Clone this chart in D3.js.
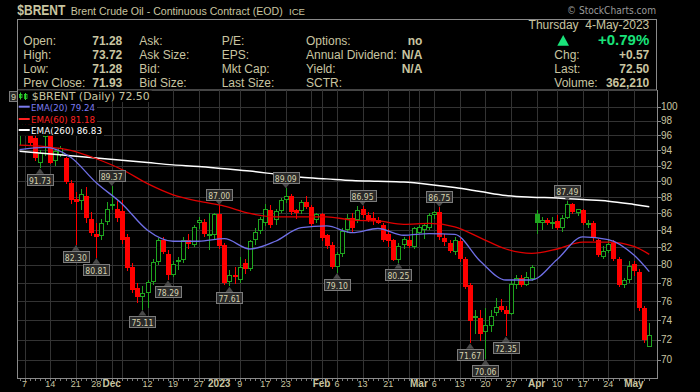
<!DOCTYPE html>
<html>
<head>
<meta charset="utf-8">
<script src="https://cdn.jsdelivr.net/npm/d3@7"></script>
<style>
body { margin: 0; background: #000; }
svg { display: block; }
</style>
</head>
<body>
<div id="chart"></div>
<script>
// daily candles, Nov 4 2022 (index 0) .. May 4 2023 (index 123)
var open = [96.3,98.6,97.9,95.6,92.4,95.8,96.0,92.6,93.4,93.0,89.8,87.8,87.5,88.2,85.3,83.6,83.3,85.0,86.9,86.6,
  86.3,83.2,79.8,77.4,76.5,76.9,78.1,80.3,82.9,81.2,78.9,80.3,80.5,82.9,82.3,84.9,85.0,83.5,83.4,85.9,
  82.3,78.1,78.9,78.3,80.2,79.5,82.8,83.9,84.9,86.4,85.2,86.3,87.7,88.1,86.4,86.3,87.4,86.8,85.2,85.9,
  83.4,82.3,79.8,81.2,84.0,85.5,85.2,86.5,85.8,85.4,85.2,84.6,83.6,82.8,80.5,82.3,82.9,82.0,83.7,84.0,
  84.2,85.8,86.2,83.1,82.5,81.5,82.7,80.6,77.8,74.2,74.2,72.8,73.4,74.7,75.5,75.1,74.6,77.8,78.5,77.8,
  78.4,85.9,84.8,85.2,84.9,85.1,84.3,85.5,87.1,86.1,86.4,84.7,84.8,82.8,80.9,81.6,82.5,80.6,77.8,78.3,
  80.1,79.2,75.3,71.28];
var high = [98.8,99.6,98.3,96.0,94.1,96.6,96.4,94.2,94.6,93.1,90.2,88.6,89.0,89.3,86.2,84.9,85.3,87.4,89.37,87.5,
  87.6,83.6,80.2,78.0,77.6,78.3,80.6,83.1,83.18,81.7,80.4,80.9,83.2,83.6,84.6,85.6,85.3,86.0,86.0,87.00,
  82.5,79.4,79.7,80.9,80.6,82.9,84.3,85.6,87.1,87.0,86.5,87.9,89.09,88.4,86.6,87.6,88.2,87.0,86.1,86.0,
  83.6,82.6,81.5,84.2,85.9,86.0,86.9,86.95,86.2,86.2,85.6,84.9,84.1,83.0,82.5,83.2,83.3,84.4,84.6,84.8,
  86.0,86.3,86.75,83.5,82.9,83.2,83.1,80.9,78.0,75.1,75.1,75.3,75.1,76.3,76.2,75.5,78.3,78.9,78.9,79.2,
  80.0,86.4,85.6,85.5,85.6,85.8,85.8,87.49,87.3,86.6,86.5,85.2,85.1,83.0,82.2,83.0,82.9,80.9,78.5,80.4,
  80.4,79.5,75.5,73.72];
var low = [94.7,97.0,94.6,92.6,91.73,93.3,92.2,92.0,93.1,89.6,87.2,82.30,86.4,84.8,83.3,80.81,82.9,84.6,86.4,85.0,
  82.4,79.3,76.9,75.8,75.11,75.3,77.8,80.0,81.2,78.29,78.6,79.4,80.2,81.8,82.0,84.1,83.2,81.7,82.9,81.8,
  77.7,77.61,77.9,78.0,79.0,79.3,82.3,83.5,84.5,84.3,84.6,86.0,87.3,85.8,85.3,85.9,86.5,84.5,84.8,82.7,
  81.8,79.5,79.10,80.9,83.7,83.7,84.9,85.5,85.0,84.6,84.7,82.6,82.0,80.4,80.25,81.8,81.9,81.8,83.5,83.0,
  84.0,85.3,82.9,82.2,81.3,81.1,80.3,77.3,71.67,72.6,71.9,70.06,72.8,74.4,74.9,72.35,74.5,77.3,77.5,77.6,
  78.2,83.5,84.0,84.6,84.1,84.0,83.8,85.3,85.9,85.7,84.6,84.2,82.7,80.9,80.7,81.3,80.4,77.5,77.4,78.0,
  78.8,75.0,71.6,71.28];
var close = [98.57,97.92,95.0,93.0,93.7,96.2,92.4,93.9,94.3,89.9,87.62,87.45,88.36,85.41,83.63,83.19,84.9,86.6,87.2,85.4,
  82.8,79.6,77.2,76.5,76.9,78.1,80.3,82.9,81.5,78.9,80.1,80.5,82.9,82.4,84.4,85.2,83.5,83.6,85.91,82.10,
  78.0,78.9,78.6,79.8,79.5,82.67,83.8,85.28,86.6,84.6,86.3,87.63,88.1,86.13,86.1,87.4,86.8,84.7,85.9,83.1,
  82.1,79.8,81.2,83.9,85.5,84.3,86.4,85.8,85.2,85.1,84.9,82.9,82.7,80.5,82.2,83.0,82.1,84.2,84.4,84.6,
  85.8,86.2,83.2,82.6,81.6,82.8,80.6,77.5,73.9,74.4,72.6,73.5,74.4,75.4,75.1,74.6,77.9,78.5,77.7,78.6,
  79.8,84.9,85.2,84.8,85.0,84.3,85.5,87.1,86.2,86.5,84.8,84.85,83.2,81.1,81.6,82.4,80.6,77.8,78.3,79.9,
  79.3,75.32,71.93,72.50];
var prevClose0 = 94.67;

// moving averages read every 5 sessions
var emaIdx = [0,5,10,15,20,25,30,35,40,45,50,55,60,65,70,75,80,85,90,95,100,105,110,115,120,123];
var ema20 = [94.1,94.4,93.1,89.8,87.2,84.0,82.7,82.7,83.0,81.8,82.7,84.3,84.5,83.7,84.2,83.4,83.6,83.5,80.4,78.3,78.3,80.6,83.2,82.9,81.1,79.24];
var ema60 = [94.7,94.5,94.0,92.9,91.5,89.7,88.3,87.5,86.9,86.0,85.6,85.6,85.6,85.2,85.1,84.7,84.8,84.4,83.1,81.8,81.3,81.8,82.6,82.6,82.1,81.18];
var ema260 = [93.9,93.6,93.3,93.0,92.7,92.4,92.1,91.9,91.6,91.3,90.9,90.5,90.3,90.1,90.0,89.9,89.6,89.2,88.7,88.2,88.0,87.9,87.7,87.5,87.1,86.83];

// x ticks: [session index, label]
var xTicks = [[1,"7"],[6,"14"],[11,"21"],[15,"28"],[18,"Dec"],[20,""],[25,"12"],[30,"19"],[35,"27"],[39,"2023"],
  [43,"9"],[48,"17"],[52,"23"],[57,""],[59,"Feb"],[62,"6"],[67,"13"],[72,"21"],[76,""],[78,"Mar"],[81,"6"],
  [86,"13"],[91,"20"],[96,"27"],[101,"Apr"],[105,"10"],[110,"17"],[115,"24"],[120,"May"]];
var boldTicks = ["Dec","2023","Feb","Mar","Apr","May"];
var priceTicks = [70,72,74,76,78,80,82,84,86,88,90,92,94,96,98,100];

// annotated swing points
var pivotHighs = [18,39,52,67,82,107];
var pivotLows = [4,11,15,24,29,41,62,74,88,91,95];

var quoteRows = [["Open:","71.28","Ask:","P/E:","Options:","no"],
  ["High:","73.72","Ask Size:","EPS:","Annual Dividend:","N/A"],
  ["Low:","71.28","Bid:","Mkt Cap:","Yield:","N/A"],
  ["Prev Close:","71.93","Bid Size:","Last Size:","SCTR:",""]];
var rightRows = [["Chg:","+0.57"],["Last:","72.50"],["Volume:","362,210"]];

var W = 700, H = 392;
var khaki = "#c9c5a1", green = "#1fa51f", red = "#ff0000";
var narrow = "'Liberation Sans Narrow', 'Liberation Sans', Arial, sans-serif";
var verdanaLike = "'DejaVu Sans', Verdana, sans-serif";
var plot = {left: 17, right: 657, top: 90, bottom: 378};

var svg = d3.select("#chart").append("svg")
    .attr("width", W)
    .attr("height", H)
    .style("font-family", "'Liberation Sans', Arial, sans-serif");

svg.append("rect").attr("width", W).attr("height", H).attr("fill", "#000");

var x = d3.scaleLinear().domain([0, 123]).range([19.5, 649.3]);
var y = d3.scaleLog().domain([70, 100]).range([359.5, 106.5]);

function txt(g, px, py, s, size, opts) {
    opts = opts || {};
    var t = g.append("text")
        .attr("x", px).attr("y", py)
        .attr("font-size", size)
        .attr("fill", opts.fill || khaki)
        .attr("text-anchor", opts.anchor || "start")
        .attr("font-weight", opts.bold ? "bold" : "normal")
        .text(s);
    if (opts.len) t.attr("textLength", opts.len).attr("lengthAdjust", "spacingAndGlyphs");
    if (opts.family) t.style("font-family", opts.family);
    return t;
}

// ---- header
txt(svg, 17.3, 15, "$BRENT", 15, {bold: true, len: 48, family: narrow});
txt(svg, 70.7, 15, "Brent Crude Oil - Continuous Contract (EOD)", 10.5, {len: 212});
txt(svg, 289, 15, "ICE", 9, {len: 16});
txt(svg, 656, 14, "\u00a9 StockCharts.com", 11, {anchor: "end", fill: "#9a9a9a", len: 89, family: verdanaLike});

svg.append("rect")
    .attr("x", 17.5).attr("y", 19.5)
    .attr("width", 639).attr("height", 70.5)
    .attr("fill", "none").attr("stroke", "#8a8a8a");

var rowY = [45, 59, 73.3, 87.3];
quoteRows.forEach(function(r, k) {
    txt(svg, 23.3, rowY[k], r[0], 12);
    txt(svg, 122.3, rowY[k], r[1], 12, {anchor: "end", bold: true});
    txt(svg, 139.3, rowY[k], r[2], 12);
    txt(svg, 221.7, rowY[k], r[3], 12);
    txt(svg, 306, rowY[k], r[4], 12);
    if (r[5]) txt(svg, 422.3, rowY[k], r[5], 12, {anchor: "end", bold: true});
});

txt(svg, 649.3, 29.3, "Thursday  4-May-2023", 12, {anchor: "end"}).attr("xml:space", "preserve");
svg.append("path").attr("d", "M557.3,45.7L569,45.7L563.2,35Z").attr("fill", "#19e37a");
txt(svg, 649.3, 45.3, "+0.79%", 15, {anchor: "end", bold: true, fill: "#19e37a"});
rightRows.forEach(function(r, k) {
    txt(svg, 554.3, rowY[k + 1], r[0], 12);
    txt(svg, 649.3, rowY[k + 1], r[1], 12, {anchor: "end", bold: true});
});

// ---- price panel
svg.append("defs").append("clipPath").attr("id", "clip")
  .append("rect")
    .attr("x", plot.left).attr("y", plot.top)
    .attr("width", plot.right - plot.left).attr("height", plot.bottom - plot.top);

var grid = svg.append("g").attr("shape-rendering", "crispEdges");
grid.selectAll(".hgrid").data(priceTicks).enter().append("line")
    .attr("x1", plot.left).attr("x2", plot.right)
    .attr("y1", function(d) { return Math.round(y(d)) + 0.5; })
    .attr("y2", function(d) { return Math.round(y(d)) + 0.5; })
    .attr("stroke", "#333");
grid.selectAll(".vgrid").data(xTicks).enter().append("line")
    .attr("x1", function(d) { return Math.round(x(d[0])) + 0.5; })
    .attr("x2", function(d) { return Math.round(x(d[0])) + 0.5; })
    .attr("y1", plot.top).attr("y2", plot.bottom)
    .attr("stroke", "#333");

var pg = svg.append("g").attr("clip-path", "url(#clip)");

var idx = d3.range(close.length);
function candleColor(i) {
    var prev = i === 0 ? prevClose0 : close[i - 1];
    return close[i] >= prev ? green : red;
}
function cx(i) { return Math.round(x(i)); }

var cg = pg.append("g").attr("shape-rendering", "crispEdges");
cg.selectAll(".wick").data(idx).enter().append("line")
    .attr("x1", function(i) { return cx(i) + 0.5; })
    .attr("x2", function(i) { return cx(i) + 0.5; })
    .attr("y1", function(i) { return y(high[i]); })
    .attr("y2", function(i) { return y(low[i]); })
    .attr("stroke", candleColor);

cg.selectAll(".body").data(idx).enter().append("rect")
    .each(function(i) {
        var top = Math.round(y(Math.max(open[i], close[i])));
        var bot = Math.round(y(Math.min(open[i], close[i])));
        var filled = close[i] < open[i];
        var el = d3.select(this);
        if (filled) {
            el.attr("x", cx(i) - 2).attr("width", 5)
              .attr("y", top).attr("height", Math.max(bot - top, 1))
              .attr("fill", candleColor(i));
        } else {
            el.attr("x", cx(i) - 1.5).attr("width", 4)
              .attr("y", top + 0.5).attr("height", Math.max(bot - top - 1, 0.5))
              .attr("fill", "#000").attr("stroke", candleColor(i));
        }
    });

// moving averages
function emaLine(vals) {
    return d3.line()
        .x(function(d, k) { return x(emaIdx[k]); })
        .y(function(d) { return y(d); })
        .curve(d3.curveMonotoneX)(vals);
}
pg.append("path").attr("d", emaLine(ema260)).attr("fill", "none").attr("stroke", "#fff").attr("stroke-width", 1.5);
pg.append("path").attr("d", emaLine(ema60)).attr("fill", "none").attr("stroke", "#e00000").attr("stroke-width", 1.3);
pg.append("path").attr("d", emaLine(ema20)).attr("fill", "none").attr("stroke", "#6f6fe6").attr("stroke-width", 1.3);

// swing labels
function tag(i, v, isHigh) {
    var px = x(i), py = y(v);
    var tg = pg.append("g");
    var by = isHigh ? py - 16 : py + 6;
    var tri = isHigh
        ? "M" + (px - 4) + "," + (py - 5) + "L" + (px + 4) + "," + (py - 5) + "L" + px + "," + (py - 0.5) + "Z"
        : "M" + (px - 4) + "," + (py + 6) + "L" + (px + 4) + "," + (py + 6) + "L" + px + "," + (py + 0.5) + "Z";
    tg.append("path").attr("d", tri).attr("fill", "#4a4a4a");
    tg.append("rect")
        .attr("x", Math.round(px - 13) + 0.5).attr("y", Math.round(by) + 0.5)
        .attr("width", 26).attr("height", 11)
        .attr("fill", "#2a2a2a").attr("stroke", "#7c7c7c");
    txt(tg, px, Math.round(by) + 9.5, d3.format(".2f")(v), 8.5, {anchor: "middle", fill: "#d6d2ae", len: 22, family: verdanaLike});
}
pivotHighs.forEach(function(i) { tag(i, high[i], true); });
pivotLows.forEach(function(i) { tag(i, low[i], false); });

// legend
var lg = svg.append("g");
var legendRows = [
    {t: "$BRENT (Daily) 72.50", c: khaki, by: 100, len: 118, size: 10.5, tx: 31.7},
    {t: "EMA(20) 79.24", c: "#7c7cf0", by: 110.8, len: 64, size: 9.5, line: 106.7, tx: 31},
    {t: "EMA(60) 81.18", c: "#ff2020", by: 122.5, len: 64, size: 9.5, line: 119, tx: 31},
    {t: "EMA(260) 86.83", c: "#ffffff", by: 133.8, len: 71, size: 9.5, line: 130, tx: 31}
];
legendRows.forEach(function(r) {
    lg.append("rect").attr("x", 18).attr("y", r.by - 9.5)
        .attr("width", r.tx + r.len - 16).attr("height", 11.5).attr("fill", "#000");
});
legendRows.forEach(function(r) {
    if (r.line) {
        lg.append("line").attr("x1", 18.7).attr("x2", 29.7).attr("y1", r.line).attr("y2", r.line)
            .attr("stroke", r.c).attr("stroke-width", 2);
    }
    txt(lg, r.tx, r.by, r.t, r.size, {fill: r.c, len: r.len, family: verdanaLike});
});
// little candle icon
lg.append("line").attr("x1", 20.5).attr("x2", 20.5).attr("y1", 92.5).attr("y2", 99.5).attr("stroke", "#2bd62b");
lg.append("rect").attr("x", 19.5).attr("y", 94.5).attr("width", 2.5).attr("height", 3).attr("fill", "none").attr("stroke", "#2bd62b").attr("stroke-width", 0.8);
lg.append("line").attr("x1", 25.5).attr("x2", 25.5).attr("y1", 93).attr("y2", 100).attr("stroke", "#2bd62b");
lg.append("rect").attr("x", 24.5).attr("y", 94.5).attr("width", 2.5).attr("height", 4).attr("fill", "none").attr("stroke", "#2bd62b").attr("stroke-width", 0.8);
// clipped tag at the left edge
svg.append("rect").attr("x", 9.5).attr("y", 91.5).attr("width", 8).attr("height", 10)
    .attr("fill", "#2a2a2a").attr("stroke", "#7c7c7c");
txt(svg, 11, 99.5, "9", 9, {fill: "#d6d2ae"});

// panel frame
var frame = svg.append("g").attr("shape-rendering", "crispEdges").attr("stroke", "#8a8a8a").attr("fill", "none");
frame.append("path").attr("d", "M" + (plot.left + 0.5) + "," + plot.top + "V" + (plot.bottom + 0.5) + "H" + (plot.right + 0.5) + "V" + plot.top);

// y axis (right)
var ya = svg.append("g");
ya.selectAll(".yt").data(priceTicks).enter().append("line")
    .attr("x1", plot.right).attr("x2", plot.right + 4)
    .attr("y1", function(d) { return Math.round(y(d)) + 0.5; })
    .attr("y2", function(d) { return Math.round(y(d)) + 0.5; })
    .attr("stroke", "#8a8a8a").attr("shape-rendering", "crispEdges");
priceTicks.forEach(function(d) {
    txt(ya, 661, y(d) + 3.6, String(d), 10);
});

// x axis (bottom)
var xa = svg.append("g").attr("shape-rendering", "crispEdges");
xa.selectAll(".xt").data(idx).enter().append("line")
    .attr("x1", function(i) { return cx(i) + 0.5; })
    .attr("x2", function(i) { return cx(i) + 0.5; })
    .attr("y1", plot.bottom + 1).attr("y2", plot.bottom + 3)
    .attr("stroke", "#7a7a7a");
xTicks.forEach(function(d) {
    if (!d[1]) return;
    var b = boldTicks.indexOf(d[1]) >= 0;
    txt(svg, x(d[0]), 387, d[1], b ? 10 : 9, {anchor: "middle", bold: b, family: b ? null : narrow});
});
</script>
</body>
</html>
